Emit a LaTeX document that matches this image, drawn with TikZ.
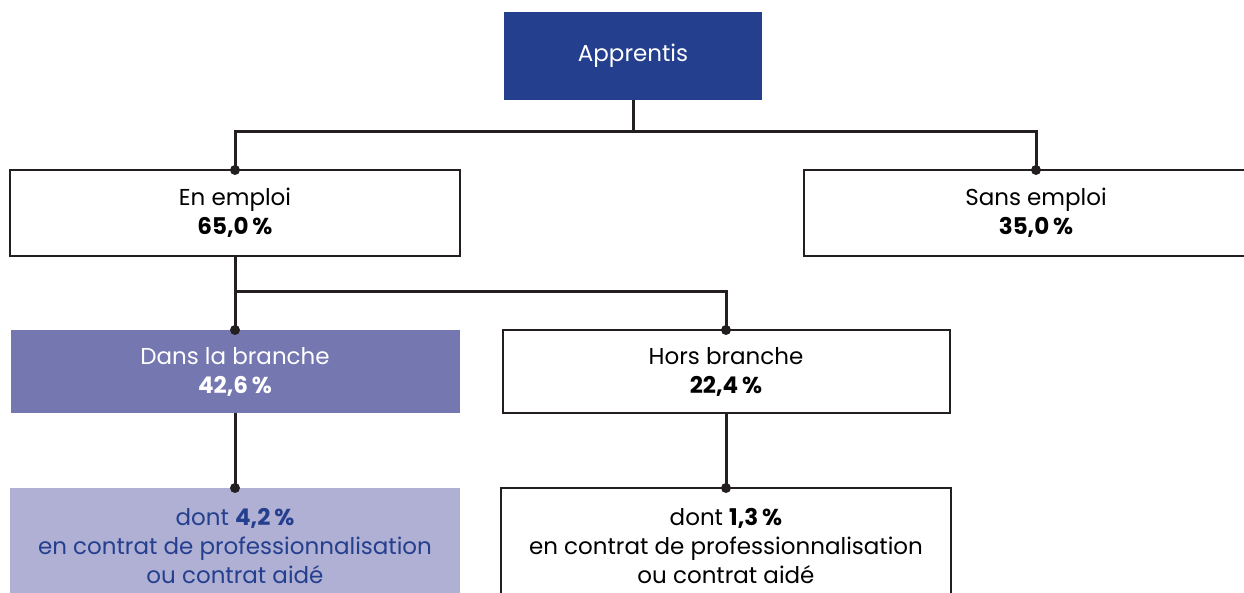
\documentclass[tikz,border=0pt]{standalone}
\usepackage{fontspec}
\setmainfont{Poppins}
\usetikzlibrary{positioning,calc}
\definecolor{ink}{HTML}{231F20}
\definecolor{navy}{HTML}{253F8F}
\definecolor{midfill}{HTML}{7577B0}
\definecolor{lightfill}{HTML}{AFB0D3}
\tikzset{
  box/.style={draw=ink, line width=1pt, align=center, inner sep=0pt, outer sep=0pt, minimum width=225pt, minimum height=43pt, font=\fontsize{11.5}{14.5}\selectfont},
  topbox/.style={box, draw=none, fill=navy, text=white, minimum width=129pt, minimum height=44pt},
  dontbox/.style={box, minimum height=58pt},
  link/.style={draw=ink, line width=1.5pt},
  dot/.style={fill=ink}
}

\begin{document}
\begin{tikzpicture}
  \useasboundingbox (0,0) rectangle (622pt,-296.5pt);
  \node[topbox] (app) at (316.5pt,-28pt) {Apprentis};
  \node[box] (emp) at (117.5pt,-106.5pt) {En emploi\\\textbf{65,0\,\%}};
  \node[box, minimum width=232pt, right=172pt of emp] (sans) {Sans emploi\\\textbf{35,0\,\%}};
  \node[box, draw=none, fill=midfill, text=white, minimum height=41.5pt, minimum width=224.5pt, below=37pt of emp] (dans) {Dans la branche\\\textbf{42,6\,\%}};
  \node[box, minimum height=41.5pt, minimum width=223.5pt, right=21.5pt of dans] (hors) {Hors branche\\\textbf{22,4\,\%}};
  \node[dontbox, draw=none, fill=lightfill, text=navy, below=37.5pt of dans] (dansdont) {dont \textbf{4,2\,\%}\\en contrat de professionnalisation\\ou contrat aidé};
  \node[dontbox, below=37.5pt of hors] (horsdont) {dont \textbf{1,3\,\%}\\en contrat de professionnalisation\\ou contrat aidé};

  \draw[link] (app.south) -- ++(0,-16pt) -| (emp.north);
  \draw[link] (app.south) -- ++(0,-16pt) -| (sans.north);
  \draw[link] (emp.south) -- (dans.north);
  \draw[link] (emp.south) -- ++(0,-18pt) -| (hors.north);
  \draw[link] (dans.south) -- (dansdont.north);
  \draw[link] (hors.south) -- (horsdont.north);

  \foreach \n in {emp,sans,dans,hors,dansdont,horsdont}
    \fill[dot] (\n.north) circle (2.5pt);
\end{tikzpicture}
\end{document}
